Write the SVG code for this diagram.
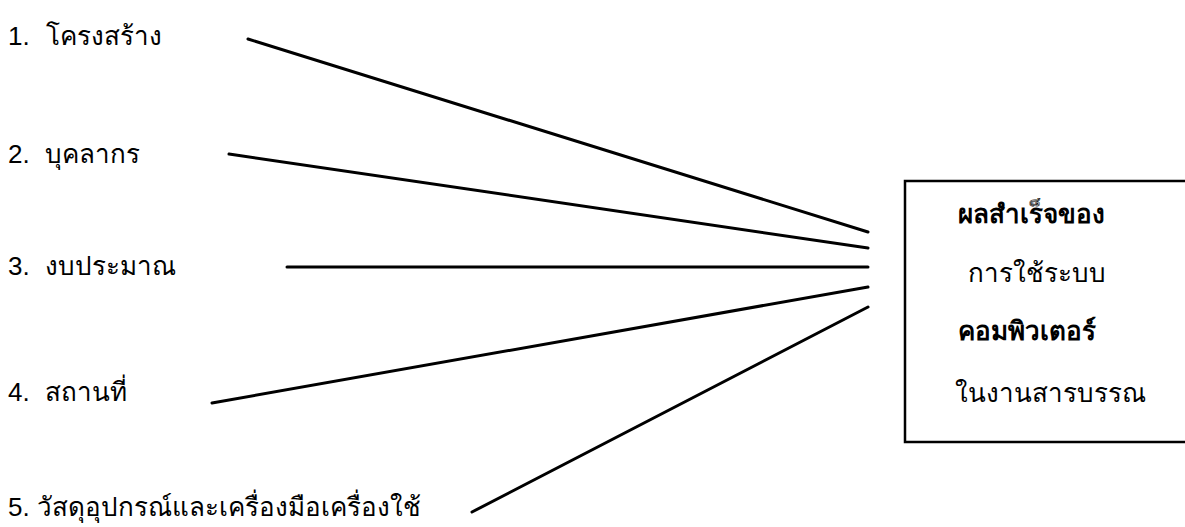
<svg xmlns="http://www.w3.org/2000/svg" width="1185" height="527" viewBox="0 0 1185 527">
<style>
.lbl{font-family:"Liberation Sans","Noto Sans","DejaVu Sans",sans-serif;font-size:26px;fill:#000}
.b{font-weight:bold}
.conn line{stroke:#000;stroke-width:3;stroke-linecap:round}
.box{fill:#fff;stroke:#000;stroke-width:2.5}
</style>
<rect width="1185" height="527" fill="#fff"/>
<g id="n1"><text class="lbl" x="8" y="45">1.<tspan x="46">โครงสร้าง</tspan></text></g>
<g id="n2"><text class="lbl" x="8" y="163">2.<tspan x="45">บุคลากร</tspan></text></g>
<g id="n3"><text class="lbl" x="8" y="275">3.<tspan x="45">งบประมาณ</tspan></text></g>
<g id="n4"><text class="lbl" x="8" y="401">4.<tspan x="45">สถานที่</tspan></text></g>
<g id="n5"><text class="lbl" x="8" y="516">5. วัสดุอุปกรณ์และเครื่องมือเครื่องใช้</text></g>
<g id="result">
<rect class="box" x="905" y="181" width="290" height="261"/>
<text class="lbl b" x="958" y="223">ผลสำเร็จของ</text>
<text class="lbl" x="968" y="282">การใช้ระบบ</text>
<text class="lbl b" x="958" y="340">คอมพิวเตอร์</text>
<text class="lbl" x="955" y="402">ในงานสารบรรณ</text>
</g>
<g class="conn" id="connectors">
<line x1="248" y1="39" x2="868" y2="232"/>
<line x1="229" y1="154" x2="868" y2="248"/>
<line x1="287" y1="267" x2="868" y2="267"/>
<line x1="212" y1="403" x2="868" y2="287"/>
<line x1="472" y1="512" x2="868" y2="307"/>
</g>
</svg>
